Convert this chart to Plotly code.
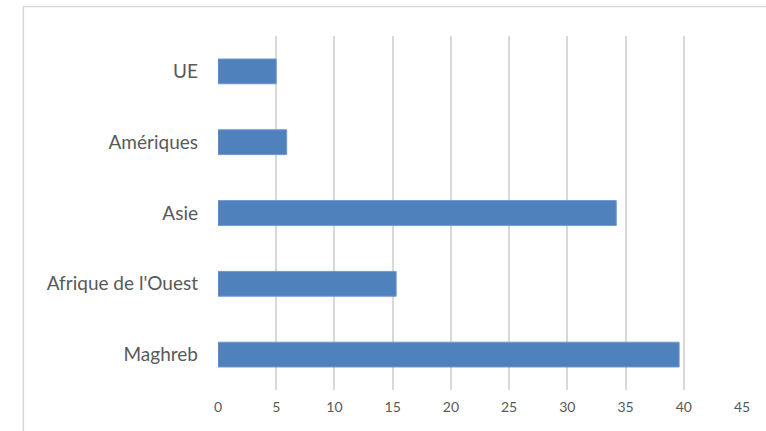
import plotly.graph_objects as go

categories = ["Maghreb", "Afrique de l'Ouest", "Asie", "Amériques", "UE"]
values = [39.6, 15.3, 34.2, 5.9, 5.0]
x_ticks = [0, 5, 10, 15, 20, 25, 30, 35, 40, 45]

fig = go.Figure(go.Bar(
    y=categories, x=values, orientation="h",
    marker=dict(color="#4f81bd", line=dict(color="#6d98cc", width=1)),
    width=0.35,
))

fig.update_layout(
    width=766, height=431,
    margin=dict(l=218, r=24, t=36, b=41),
    paper_bgcolor="white", plot_bgcolor="white",
    font=dict(family="Lato, 'Open Sans', sans-serif", color="#595959"),
    showlegend=False,
    shapes=[dict(type="rect", xref="paper", yref="paper",
                 x0=-0.3715, y0=-0.3, x1=1.2, y1=1.0833,
                 line=dict(color="#d9d9d9", width=1.5), layer="below")],
)
fig.update_xaxes(
    range=[0, 45], tickvals=x_ticks, showgrid=True, gridcolor="#d9d9d9",
    gridwidth=1.5, zeroline=False, showline=False, ticks="",
    tickfont=dict(size=14, color="#595959"), ticklabelstandoff=7,
    fixedrange=True,
)
fig.update_yaxes(
    categoryorder="array", categoryarray=categories,
    showgrid=False, zeroline=False, showline=False, ticks="",
    tickfont=dict(size=19, color="#595959"), ticklabelstandoff=19,
    fixedrange=True,
)

fig.write_html(
    "out.html",
    config={"displayModeBar": False},
    post_script="document.body.style.margin='0';document.body.style.overflow='hidden';",
)
